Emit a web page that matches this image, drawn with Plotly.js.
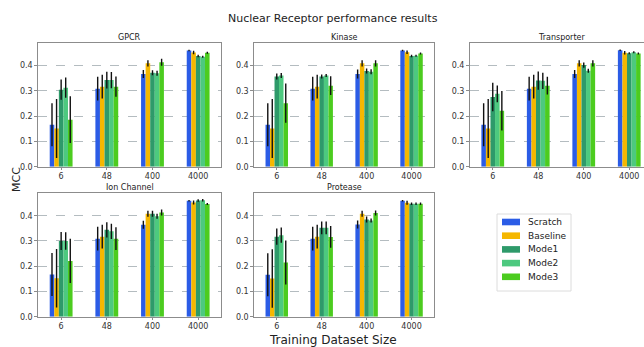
<!DOCTYPE html>
<html><head><meta charset="utf-8">
<script src="https://cdn.plot.ly/plotly-3.0.1.min.js"></script>
<style>html,body{margin:0;padding:0;overflow:hidden;background:#fff}#chart{width:660px;height:347px}</style>
</head><body><div id="chart"></div>
<script>
// ---- data ----
const categories = ['6', '48', '400', '4000'];
const seriesNames = ['Scratch', 'Baseline', 'Mode1', 'Mode2', 'Mode3'];
const panelTitles = ['GPCR', 'Kinase', 'Transporter', 'Ion Channel', 'Protease'];

// rows = series (Scratch, Baseline, Mode1, Mode2, Mode3), cols = categories
const gpcrMean = [
  [0.166, 0.308, 0.366, 0.459],
  [0.151, 0.316, 0.408, 0.451],
  [0.304, 0.342, 0.371, 0.437],
  [0.312, 0.342, 0.369, 0.434],
  [0.186, 0.316, 0.412, 0.450]];
const gpcrErr = [
  [0.085, 0.047, 0.016, 0.003],
  [0.116, 0.047, 0.012, 0.007],
  [0.040, 0.033, 0.010, 0.005],
  [0.040, 0.032, 0.010, 0.004],
  [0.092, 0.040, 0.014, 0.004]];

const kinaseMean = [
  [0.166, 0.308, 0.366, 0.459],
  [0.151, 0.316, 0.408, 0.452],
  [0.356, 0.356, 0.378, 0.437],
  [0.360, 0.360, 0.375, 0.438],
  [0.251, 0.320, 0.408, 0.447]];
const kinaseErr = [
  [0.085, 0.047, 0.018, 0.003],
  [0.116, 0.047, 0.012, 0.007],
  [0.012, 0.008, 0.010, 0.005],
  [0.010, 0.006, 0.010, 0.004],
  [0.077, 0.037, 0.012, 0.004]];

const transporterMean = [
  [0.166, 0.308, 0.366, 0.460],
  [0.151, 0.316, 0.408, 0.450],
  [0.275, 0.340, 0.401, 0.448],
  [0.288, 0.339, 0.379, 0.452],
  [0.221, 0.320, 0.408, 0.447]];
const transporterErr = [
  [0.085, 0.047, 0.016, 0.003],
  [0.116, 0.047, 0.012, 0.007],
  [0.056, 0.036, 0.010, 0.004],
  [0.033, 0.032, 0.008, 0.004],
  [0.078, 0.035, 0.012, 0.004]];

const ionMean = [
  [0.167, 0.309, 0.364, 0.459],
  [0.152, 0.317, 0.408, 0.452],
  [0.300, 0.344, 0.408, 0.460],
  [0.300, 0.338, 0.398, 0.461],
  [0.221, 0.309, 0.413, 0.446]];
const ionErr = [
  [0.085, 0.047, 0.016, 0.003],
  [0.116, 0.047, 0.012, 0.008],
  [0.036, 0.030, 0.012, 0.005],
  [0.035, 0.030, 0.010, 0.005],
  [0.088, 0.045, 0.012, 0.004]];

const proteaseMean = [
  [0.166, 0.309, 0.365, 0.459],
  [0.151, 0.317, 0.408, 0.451],
  [0.317, 0.352, 0.385, 0.447],
  [0.323, 0.352, 0.381, 0.447],
  [0.215, 0.316, 0.411, 0.447]];
const proteaseErr = [
  [0.085, 0.047, 0.016, 0.003],
  [0.116, 0.047, 0.012, 0.008],
  [0.032, 0.025, 0.012, 0.005],
  [0.030, 0.025, 0.008, 0.005],
  [0.087, 0.043, 0.010, 0.005]];

// ---- styling / layout ----
const colors = ['#2b5ce6', '#f5b700', '#2e9a6a', '#4dc97f', '#4ccc1f'];
const panelMeans = [gpcrMean, kinaseMean, transporterMean, ionMean, proteaseMean];
const panelErrs = [gpcrErr, kinaseErr, transporterErr, ionErr, proteaseErr];

const W = 660, H = 347;
const FONT = 'DejaVu Sans, Liberation Sans, sans-serif';
// axes boxes in pixels: [left, right, top, bottom]
const boxes = [
  [38.3, 221, 43.3, 166.8], [254.3, 434, 43.3, 166.8], [470, 652, 43.3, 166.8],
  [38.3, 221, 193, 316.7], [254.3, 434, 193, 316.7]];
const yTop = [0.487, 0.487, 0.487, 0.49, 0.49];
const px = v => v / W;
const py = v => 1 - v / H;

const barW = 0.1;
const traces = [];
const layout = {
  width: W, height: H,
  margin: {l: 0, r: 0, t: 0, b: 0},
  paper_bgcolor: '#fff', plot_bgcolor: '#fff',
  barmode: 'overlay',
  showlegend: false,
  font: {family: FONT, size: 8, color: '#333'},
  annotations: [], shapes: []
};

panelTitles.forEach((title, k) => {
  const sfx = k === 0 ? '' : String(k + 1);
  const b = boxes[k];
  seriesNames.forEach((name, i) => {
    traces.push({
      type: 'bar',
      name: name,
      x: categories.map((c, j) => j),
      y: panelMeans[k][i],
      width: barW,
      offset: (i - 2.5) * barW,
      marker: {color: colors[i], line: {width: 0}},
      error_y: {type: 'data', array: panelErrs[k][i], visible: true,
                color: '#111', thickness: 1.4, width: 0},
      xaxis: 'x' + sfx, yaxis: 'y' + sfx,
      showlegend: false,
      hoverinfo: 'skip'
    });
  });
  layout['xaxis' + sfx] = {
    domain: [px(b[0]), px(b[1])],
    anchor: 'y' + sfx,
    range: [-0.5, 3.5],
    tickvals: categories.map((c, j) => j),
    ticktext: categories,
    showgrid: false, zeroline: false,
    showline: true, mirror: true, linecolor: '#8c8c8c', linewidth: 1,
    ticks: 'outside', ticklen: 2, tickcolor: '#8c8c8c',
    tickfont: {family: FONT, size: 8, color: '#333'},
    fixedrange: true
  };
  layout['yaxis' + sfx] = {
    domain: [py(b[3]), py(b[2])],
    anchor: 'x' + sfx,
    range: [0, yTop[k]],
    tickvals: [0, 0.1, 0.2, 0.3, 0.4],
    tickformat: '.1f',
    showgrid: true, gridcolor: '#b4bcc0', griddash: 'dash', gridwidth: 1,
    zeroline: false,
    showline: true, mirror: true, linecolor: '#8c8c8c', linewidth: 1,
    ticks: 'outside', ticklen: 3, tickcolor: '#8c8c8c',
    tickfont: {family: FONT, size: 8, color: '#333'},
    fixedrange: true
  };
  layout.annotations.push({
    text: title, xref: 'paper', yref: 'paper',
    x: px((b[0] + b[1]) / 2), y: py(b[2] - 0.5),
    xanchor: 'center', yanchor: 'bottom', showarrow: false, borderpad: 0,
    font: {family: FONT, size: 8, color: '#222'}
  });
});

// figure-level texts
layout.annotations.push({
  text: 'Nuclear Receptor performance results', xref: 'paper', yref: 'paper',
  x: px(333), y: py(18), xanchor: 'center', yanchor: 'middle', showarrow: false,
  font: {family: FONT, size: 11, color: '#222'}
});
layout.annotations.push({
  text: 'Training Dataset Size', xref: 'paper', yref: 'paper',
  x: px(333), y: py(339.5), xanchor: 'center', yanchor: 'middle', showarrow: false,
  font: {family: FONT, size: 12, color: '#222'}
});
layout.annotations.push({
  text: 'MCC', xref: 'paper', yref: 'paper', textangle: -90,
  x: px(16), y: py(180), xanchor: 'center', yanchor: 'middle', showarrow: false,
  font: {family: FONT, size: 11, color: '#222'}
});

// legend (matplotlib style box)
const lg = {x0: 497, x1: 571, y0: 214, y1: 291, first: 222, step: 13.7};
layout.shapes.push({
  type: 'rect', xref: 'paper', yref: 'paper', layer: 'above',
  x0: px(lg.x0), x1: px(lg.x1), y0: py(lg.y1), y1: py(lg.y0),
  line: {color: '#dcdcdc', width: 1}, fillcolor: 'rgba(255,255,255,0.9)'
});
seriesNames.forEach((name, i) => {
  const yc = lg.first + i * lg.step;
  layout.shapes.push({
    type: 'rect', xref: 'paper', yref: 'paper', layer: 'above',
    x0: px(502), x1: px(520), y0: py(yc + 3.3), y1: py(yc - 3.3),
    line: {width: 0}, fillcolor: colors[i]
  });
  layout.annotations.push({
    text: name, xref: 'paper', yref: 'paper',
    x: px(526), y: py(yc), xanchor: 'left', yanchor: 'middle', showarrow: false,
    font: {family: FONT, size: 9, color: '#222'}
  });
});

Plotly.newPlot('chart', traces, layout, {displayModeBar: false, staticPlot: true});
</script>
</body></html>
